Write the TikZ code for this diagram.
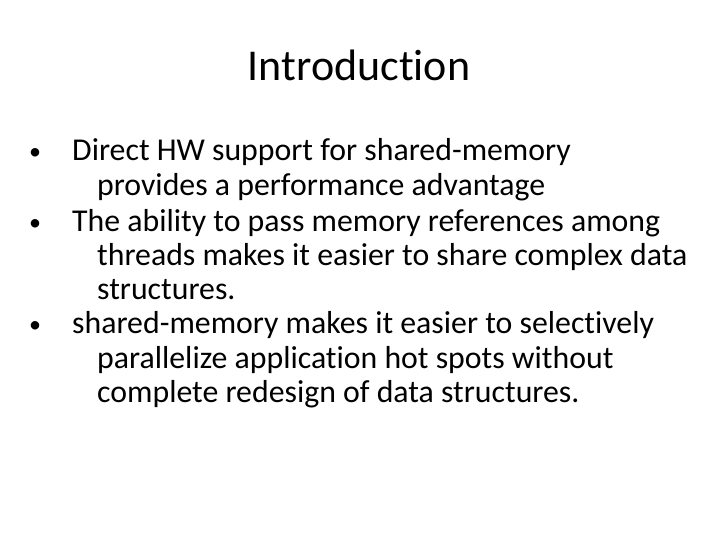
\documentclass[tikz,border=0pt]{standalone}
\usepackage{fontspec}
\setmainfont{Carlito}[Ligatures=NoCommon]
\begin{document}
\begin{tikzpicture}[x=1pt,y=-1pt,
  ln/.style={anchor=base west,inner sep=0pt,font=\fontsize{31.8}{34}\selectfont},
  bul/.style={anchor=base west,inner sep=0pt,font=\fontsize{24}{30}\selectfont}]
\useasboundingbox (0,0) rectangle (720,540);
\node[anchor=base,inner sep=0pt,font=\fontsize{44}{48}\selectfont] (title) at (359,81) {Introduction};
\node[bul] (b1) at (29,160) {\textbullet};
\node[ln] (l1) at (72,161) {Direct HW support for shared-memory};
\node[ln] (l2) at (97,196) {provides a performance advantage};
\node[bul] (b2) at (29,230) {\textbullet};
\node[ln] (l3) at (72,231) {The ability to pass memory references among};
\node[ln] (l4) at (97,265) {threads makes it easier to share complex data};
\node[ln] (l5) at (97,299) {structures.};
\node[bul] (b3) at (29,332) {\textbullet};
\node[ln] (l6) at (72,333) {shared-memory makes it easier to selectively};
\node[ln] (l7) at (97,368) {parallelize application hot spots without};
\node[ln] (l8) at (97,402) {complete redesign of data structures.};
\end{tikzpicture}
\end{document}
